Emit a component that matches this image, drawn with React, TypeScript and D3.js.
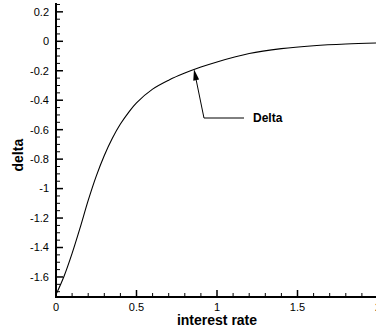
import React, { useEffect, useRef } from 'react';
import * as d3 from 'd3';

// interest rate vs delta
const rates = [0, 0.05, 0.1, 0.15, 0.2, 0.25, 0.3, 0.35, 0.4, 0.45, 0.5, 0.6, 0.7, 0.8, 0.9, 1.0, 1.2, 1.4, 1.6, 1.8, 2.0];
const deltas = [-1.72, -1.595, -1.44, -1.265, -1.08, -0.915, -0.775, -0.658, -0.562, -0.484, -0.418, -0.325, -0.264, -0.216, -0.175, -0.14, -0.083, -0.05, -0.03, -0.018, -0.011];

const xMajor = [0, 0.5, 1, 1.5, 2];
const yMajor = [0.2, 0, -0.2, -0.4, -0.6, -0.8, -1, -1.2, -1.4, -1.6];

const annotation = { label: 'Delta', rate: 0.857 };

const W = 376;
const H = 330;
const FONT = 'Liberation Sans, Arial, sans-serif';

const App = () => {
  const svgRef = useRef(null);

  useEffect(() => {
    const svg = d3.select(svgRef.current);
    svg.selectAll('*').remove();

    const x = d3.scaleLinear().domain([0, 2]).range([56, 378]);
    const y = d3.scaleLinear().domain([-1.736, 0.26]).range([297, 3]);

    const data = rates.map((r, i) => ({ r, d: deltas[i] }));

    // curve
    const line = d3
      .line()
      .x((d) => x(d.r))
      .y((d) => y(d.d))
      .curve(d3.curveCatmullRom.alpha(0.5));

    svg
      .append('path')
      .datum(data)
      .attr('d', line)
      .attr('fill', 'none')
      .attr('stroke', '#000')
      .attr('stroke-width', 1.1);

    // minor ticks
    const xMinor = d3.range(0, 2.001, 0.1).filter((v) => !xMajor.some((m) => Math.abs(m - v) < 1e-6));
    const yMinor = d3.range(-1.7, 0.26, 0.05).filter((v) => !yMajor.some((m) => Math.abs(m - v) < 1e-6));

    const g = svg.append('g').attr('stroke', '#000');

    g.selectAll('line.xminor')
      .data(xMinor)
      .join('line')
      .attr('class', 'xminor')
      .attr('x1', (d) => x(d))
      .attr('x2', (d) => x(d))
      .attr('y1', y.range()[0])
      .attr('y2', y.range()[0] - 4)
      .attr('stroke-width', 1);

    g.selectAll('line.xmajor')
      .data(xMajor)
      .join('line')
      .attr('class', 'xmajor')
      .attr('x1', (d) => x(d))
      .attr('x2', (d) => x(d))
      .attr('y1', y.range()[0])
      .attr('y2', y.range()[0] - 7)
      .attr('stroke-width', 1.5);

    g.selectAll('line.yminor')
      .data(yMinor)
      .join('line')
      .attr('class', 'yminor')
      .attr('x1', x(0))
      .attr('x2', x(0) + 4)
      .attr('y1', (d) => y(d))
      .attr('y2', (d) => y(d))
      .attr('stroke-width', 1);

    g.selectAll('line.ymajor')
      .data(yMajor)
      .join('line')
      .attr('class', 'ymajor')
      .attr('x1', x(0))
      .attr('x2', x(0) + 7)
      .attr('y1', (d) => y(d))
      .attr('y2', (d) => y(d))
      .attr('stroke-width', 1.5);

    // axis lines
    g.append('line')
      .attr('x1', x(0))
      .attr('x2', x(0))
      .attr('y1', y.range()[1])
      .attr('y2', y.range()[0] + 1)
      .attr('stroke-width', 2);
    g.append('line')
      .attr('x1', x(0) - 1)
      .attr('x2', W)
      .attr('y1', y.range()[0])
      .attr('y2', y.range()[0])
      .attr('stroke-width', 2);

    // tick labels
    svg
      .selectAll('text.xt')
      .data(xMajor)
      .join('text')
      .attr('class', 'xt')
      .attr('x', (d) => x(d))
      .attr('y', y.range()[0] + 14)
      .attr('text-anchor', 'middle')
      .attr('font-family', FONT)
      .attr('font-size', 11)
      .text((d) => d3.format('~g')(d));

    svg
      .selectAll('text.yt')
      .data(yMajor)
      .join('text')
      .attr('class', 'yt')
      .attr('x', x(0) - 7)
      .attr('y', (d) => y(d))
      .attr('dy', '0.35em')
      .attr('text-anchor', 'end')
      .attr('font-family', FONT)
      .attr('font-size', 11)
      .text((d) => d3.format('~g')(d).replace('−', '-'));

    // axis titles
    svg
      .append('text')
      .attr('x', (x(0) + W) / 2 + 1)
      .attr('y', 325)
      .attr('text-anchor', 'middle')
      .attr('font-family', FONT)
      .attr('font-size', 14)
      .attr('font-weight', 'bold')
      .text('interest rate');

    svg
      .append('text')
      .attr('transform', `translate(23,${y(-0.8) - 4}) rotate(-90)`)
      .attr('text-anchor', 'middle')
      .attr('font-family', FONT)
      .attr('font-size', 14)
      .attr('font-weight', 'bold')
      .text('delta');

    // annotation arrow
    const tipX = x(annotation.rate);
    const tipY = y(-0.19);
    const elbow = [tipX + 10, 118];
    const arrowLen = 11;
    const ang = Math.atan2(tipY - elbow[1], tipX - elbow[0]);
    const baseX = tipX - arrowLen * Math.cos(ang);
    const baseY = tipY - arrowLen * Math.sin(ang);
    const px = -Math.sin(ang) * 3;
    const py = Math.cos(ang) * 3;

    svg
      .append('path')
      .attr('d', `M${W - 132},${elbow[1]}H${elbow[0]}L${baseX},${baseY}`)
      .attr('fill', 'none')
      .attr('stroke', '#000')
      .attr('stroke-width', 1);
    svg
      .append('path')
      .attr('d', `M${tipX},${tipY}L${baseX + px},${baseY + py}L${baseX - px},${baseY - py}Z`)
      .attr('fill', '#000');

    svg
      .append('text')
      .attr('x', 253)
      .attr('y', 118)
      .attr('dy', '0.35em')
      .attr('font-family', FONT)
      .attr('font-size', 12)
      .attr('font-weight', 'bold')
      .text(annotation.label);
  }, []);

  return (
    <svg
      ref={svgRef}
      width={W}
      height={H}
      style={{ position: 'absolute', left: 0, top: 0, background: '#fff' }}
    />
  );
};

export default App;
